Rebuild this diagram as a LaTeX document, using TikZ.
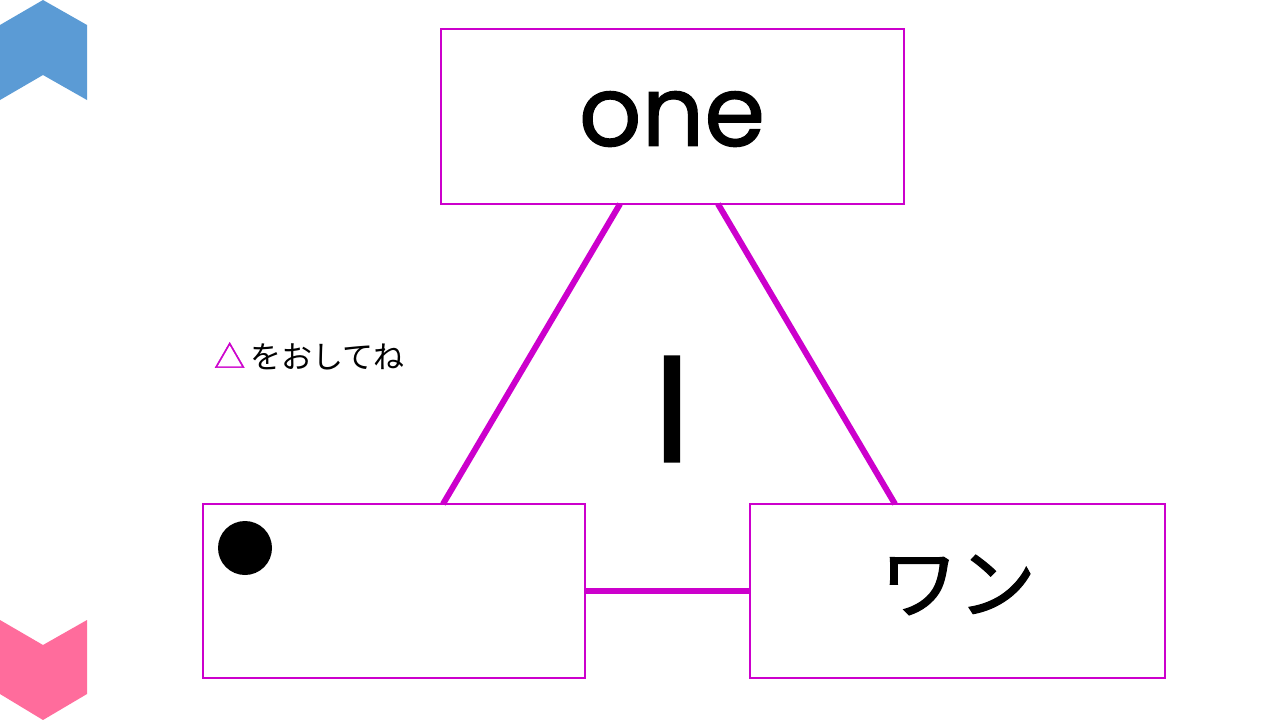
\documentclass[tikz,border=0pt]{standalone}
\usepackage{fontspec}
\setmainfont{Poppins}
\newfontfamily\jpfont{Noto Sans CJK JP}
\newfontfamily\jpbold[FakeBold=1.5]{Noto Sans CJK JP}
\newfontfamily\latbold[FakeBold=1.2]{Poppins}
\newfontfamily\barfont[FakeBold=2.5]{Poppins}
\definecolor{mag}{HTML}{CC00CC}
\definecolor{chblue}{HTML}{5B9BD5}
\definecolor{chpink}{HTML}{FF6C9C}
\begin{document}
\begin{tikzpicture}[x=1pt,y=-1pt,
  box/.style={draw=mag,line width=2.8pt,minimum width=#1,inner sep=0pt},
  link/.style={draw=mag,line width=6pt}]
\useasboundingbox (0,0) rectangle (1280,720);
\fill[white] (0,0) rectangle (1280,720);
% chevrons
\fill[chblue] (0,25) -- (43,0) -- (87,25) -- (87,100) -- (43,75) -- (0,100) -- cycle;
\fill[chpink] (0,620) -- (43,645) -- (87,620) -- (87,694) -- (43,720) -- (0,694) -- cycle;
% boxes
\node[box=463pt,minimum height=175pt] (top) at (672.5,116.5) {};
\node (onetxt) at (672,119) {\latbold\fontsize{98}{98}\selectfont one};
\node[box=382pt,minimum height=174pt] (bl) at (394,591) {};
\node[box=415pt,minimum height=174pt] (br) at (957.5,591) {};
\node (wan) at (958,585) {\jpbold\fontsize{78}{78}\selectfont ワン};
% connectors
\coordinate (tl) at (620,204);
\coordinate (tr) at (718,204);
\coordinate (bla) at (443,504);
\coordinate (bra) at (895,504);
\draw[link] (tl) -- (bla);
\draw[link] (tr) -- (bra);
\draw[link] (bl.east) -- (br.west);
% middle label
\node (mid) at (672,409) {\barfont\fontsize{140}{140}\selectfont l};
% bullet
\node[circle,fill=black,minimum size=54pt,inner sep=0pt] (dot) at (245,548) {};
% hint
\node[anchor=west,inner sep=0pt] (hint) at (214,356) {\jpfont\fontsize{31}{31}\selectfont \textcolor{mag}{\jpbold △}\hspace{5pt}をおしてね};
\end{tikzpicture}
\end{document}
